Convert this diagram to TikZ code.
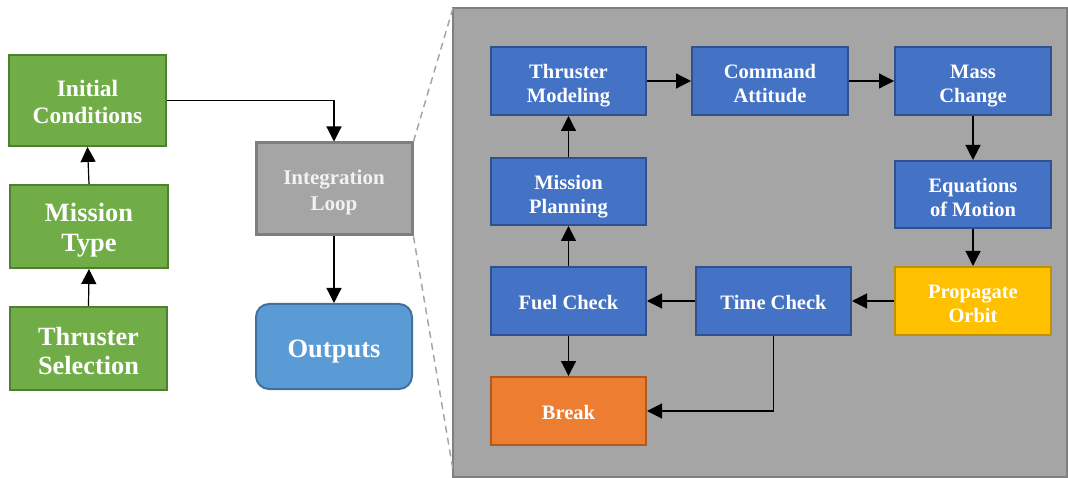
\documentclass[tikz,border=0pt]{standalone}
\usepackage{fontspec}
\setmainfont{Liberation Serif}
\usetikzlibrary{arrows.meta}
\definecolor{gfill}{HTML}{70AD47}
\definecolor{gdraw}{HTML}{507E32}
\definecolor{bfill}{HTML}{4472C4}
\definecolor{bdraw}{HTML}{2F528F}
\definecolor{yfill}{HTML}{FFC000}
\definecolor{ydraw}{HTML}{BF9000}
\definecolor{ofill}{HTML}{ED7D31}
\definecolor{odraw}{HTML}{AE5A21}
\definecolor{pfill}{HTML}{A5A5A5}
\definecolor{pdraw}{HTML}{7F7F7F}
\definecolor{ufill}{HTML}{5B9BD5}
\definecolor{udraw}{HTML}{41719C}
\definecolor{dashc}{HTML}{A6A6A6}
% text block, visually lowered by #1 while keeping its reported size
\newcommand\cellt[2]{\raisebox{-#1}[\height][\depth]{\begin{tabular}{@{}c@{}}#2\end{tabular}}}
\tikzset{
  box/.style={rectangle, line width=2pt, text=white, align=center, inner sep=0pt},
  greenbox/.style={box, fill=gfill, draw=gdraw, minimum width=157pt},
  bluebox/.style={box, fill=bfill, draw=bdraw, minimum width=155pt, minimum height=68pt,
    font=\fontsize{20.5}{24}\selectfont\bfseries},
  arr/.style={-{Triangle[length=15pt,width=15pt]}, line width=1.2pt, black},
  zoomline/.style={dashc, line width=1.5pt, dash pattern=on 7pt off 5pt}
}
\begin{document}
\begin{tikzpicture}[x=1pt,y=-1pt]
\useasboundingbox (0,0) rectangle (1068,478);
% panel
\draw[fill=pfill, draw=pdraw, line width=2.5pt] (453,8) rectangle (1067,477);
% left column
\node[greenbox, minimum height=91pt, font=\fontsize{23.5}{27}\selectfont\bfseries] (ic) at (87.5,100.5) {\cellt{4pt}{Initial\\Conditions}};
\node[greenbox, minimum width=158pt, minimum height=83pt, font=\fontsize{26.4}{30}\selectfont\bfseries] (mt) at (89,226.5) {\cellt{4.5pt}{Mission\\Type}};
\node[greenbox, minimum height=83pt, font=\fontsize{26.3}{29}\selectfont\bfseries] (ts) at (88.5,348.5) {\cellt{5.5pt}{Thruster\\Selection}};
\node[box, fill=pfill, draw=pdraw, line width=3pt, minimum width=156pt, minimum height=92pt, text={white!95!black}, font=\fontsize{21}{26}\selectfont\bfseries] (il) at (334,189) {\cellt{3.5pt}{Integration\\Loop}};
\node[box, fill=ufill, draw=udraw, rounded corners=13pt, minimum width=156pt, minimum height=85pt, font=\fontsize{26.5}{30}\selectfont\bfseries] (out) at (334,346.5) {\cellt{4.5pt}{Outputs}};
% inner boxes
\node[bluebox] (tm) at (568.5,81) {\cellt{5pt}{Thruster\\Modeling}};
\node[bluebox, minimum width=156pt] (ca) at (770,81) {\cellt{5pt}{Command\\Attitude}};
\node[bluebox, minimum width=156pt] (mc) at (973,81) {\cellt{5pt}{Mass\\Change}};
\node[bluebox, minimum height=67pt] (mp) at (568.5,191.5) {\cellt{5pt}{Mission\\Planning}};
\node[bluebox, minimum width=156pt, minimum height=67pt] (eom) at (973,194.5) {\cellt{5pt}{Equations\\of Motion}};
\node[bluebox] (fc) at (568.5,301) {\cellt{4pt}{Fuel Check}};
\node[bluebox] (tc) at (773.5,301) {\cellt{4pt}{Time Check}};
\node[bluebox, fill=yfill, draw=ydraw, minimum width=156pt] (po) at (973,301) {\cellt{4.5pt}{Propagate\\Orbit}};
\node[bluebox, fill=ofill, draw=odraw] (br) at (568.5,411) {\cellt{4pt}{Break}};
% zoom lines
\coordinate (ptl) at (453,8);
\coordinate (pbl) at (453,470);
\draw[zoomline] (il.north east) -- (ptl);
\draw[zoomline] (il.south east) -- (pbl);
% arrows left
\draw[arr] (ts.north) -- (mt.south);
\draw[arr] (mt.north) -- (ic.south);
\draw[arr] (ic.east) -| (il.north);
\draw[arr] (il.south) -- (out.north);
% arrows inner
\draw[arr] (tm.east) -- (ca.west);
\draw[arr] (ca.east) -- (mc.west);
\draw[arr] (mc.south) -- (eom.north);
\draw[arr] (eom.south) -- (po.north);
\draw[arr] (po.west) -- (tc.east);
\draw[arr] (tc.west) -- (fc.east);
\draw[arr] (fc.north) -- (mp.south);
\draw[arr] (mp.north) -- (tm.south);
\draw[arr] (fc.south) -- (br.north);
\draw[arr] (tc.south) |- (br.east);
\end{tikzpicture}
\end{document}
